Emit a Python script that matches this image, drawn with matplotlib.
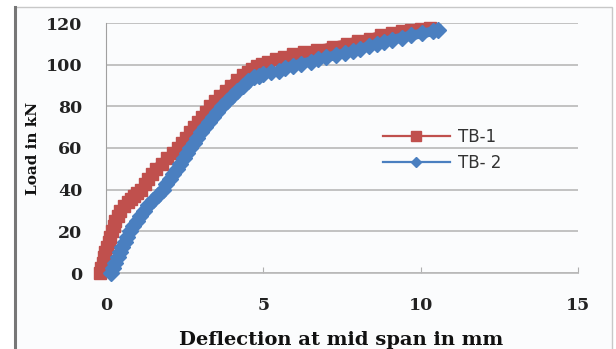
import matplotlib.pyplot as plt
from matplotlib.patches import Rectangle

# load-deflection readings (centre of each band)
tb1_x = [-0.19, -0.15, -0.1, -0.06, -0.03, 0.02, 0.08, 0.13, 0.19, 0.25, 0.3, 0.37, 0.44,
         0.56, 0.7, 0.8, 0.9, 1.0, 1.11, 1.23, 1.35, 1.47, 1.59, 1.77, 1.95, 2.12,
         2.29, 2.42, 2.55, 2.68, 2.8, 2.92, 3.05, 3.18, 3.3, 3.47, 3.63, 3.8, 3.97,
         4.15, 4.35, 4.5, 4.65, 4.8, 4.95, 5.15, 5.4, 5.65, 5.94, 6.3, 6.7, 7.2,
         7.65, 8.0, 8.4, 8.75, 9.1, 9.4, 9.7, 10.0, 10.3]
tb1_y = [0, 2.5, 5, 7.5, 10, 12.5, 15, 17.5, 20, 22.5, 25, 27.5, 30,
         32, 34, 35.5, 37, 38.5, 40, 42.5, 45, 47.5, 50, 52.5, 55, 57.5,
         60, 62.5, 65, 67.5, 70, 72.5, 75, 77.5, 80, 82.5, 85, 87.5, 90,
         92.5, 95, 96.5, 98, 99.3, 100.5, 101.5, 102.5, 103.8, 105, 106, 107, 108.5,
         110, 111.2, 112.5, 114, 115.4, 116, 116.5, 117.1, 117.6]

tb2_x = [0.15, 0.22, 0.3, 0.37, 0.44, 0.52, 0.6, 0.68, 0.76, 0.87, 0.98, 1.09, 1.2,
         1.35, 1.5, 1.65, 1.8, 1.91, 2.02, 2.14, 2.25, 2.36, 2.47, 2.58, 2.68, 2.79,
         2.9, 3.02, 3.15, 3.27, 3.4, 3.54, 3.68, 3.85, 4.0, 4.17, 4.35, 4.5, 4.7,
         4.85, 5.0, 5.25, 5.5, 5.7, 5.94, 6.2, 6.5, 6.75, 7.0, 7.3, 7.6, 7.85,
         8.06, 8.35, 8.6, 8.85, 9.1, 9.4, 9.7, 10.05, 10.4, 10.55]
tb2_y = [0, 2.5, 5, 7.5, 10, 12.5, 15, 17.5, 20, 22.5, 25, 27.5, 30,
         32.5, 35, 37.5, 40, 42.5, 45, 47.5, 50, 52.5, 55, 57.5, 60, 62.5,
         65, 67.5, 70, 72.5, 75, 77.5, 80, 82.5, 85, 87.5, 90, 92, 94,
         94.8, 95.5, 96.3, 97, 98.3, 99.5, 100.5, 101.5, 102.5, 103.5, 104.5, 105.5, 106.5,
         107.5, 108.8, 110, 111, 112, 113, 114, 115, 116, 116.5]

x_ticks = [0, 5, 10, 15]
y_ticks = [0, 20, 40, 60, 80, 100, 120]

W, H = 616, 349
fig = plt.figure(figsize=(W / 100, H / 100), dpi=100)
fig.patch.set_facecolor('white')

# outer chart frame
frame = Rectangle((15 / W, -0.1), (612 - 15) / W, 1.1 - 7 / H,
                  transform=fig.transFigure, fill=True,
                  facecolor='#fbfcfd', edgecolor='#c8c8c8', lw=1.0, zorder=-10)
fig.add_artist(frame)
fig.add_artist(plt.Line2D([15 / W, 15 / W], [0, 1 - 7 / H], transform=fig.transFigure,
                          color='#777777', lw=2.2, zorder=-9))

ax = fig.add_axes([106 / W, 1 - 273 / H, (578 - 106) / W, (273 - 23) / H])
ax.set_facecolor('#fbfcfd')
ax.set_zorder(1)

ax.plot(tb1_x, tb1_y, color='#c0504d', marker='s', markersize=8.5, lw=7,
        markeredgecolor='#c0504d', label='TB-1', zorder=3, clip_on=False)
ax.plot(tb2_x, tb2_y, color='#4a7fc0', marker='D', markersize=8, lw=7,
        markeredgecolor='#4a7fc0', label='TB- 2', zorder=4, clip_on=False)

ax.set_xlim(0, 15)
ax.set_ylim(0, 120)
ax.set_xticks(x_ticks)
ax.set_yticks(y_ticks)
ax.grid(axis='y', color='#b8b8b8', lw=1.2)
ax.set_axisbelow(True)
for s in ['top', 'right']:
    ax.spines[s].set_visible(False)
ax.spines['left'].set_color('#a0a0a0')
ax.spines['bottom'].set_color('#b8b8b8')
ax.spines['bottom'].set_linewidth(1.2)
ax.tick_params(axis='y', length=0, pad=17)
ax.tick_params(axis='x', direction='in', length=4, color='#b0b0b0', pad=17)
for lab in ax.get_xticklabels() + ax.get_yticklabels():
    lab.set_fontfamily('DejaVu Serif')
    lab.set_fontweight('bold')
    lab.set_fontsize(12.5)
    lab.set_color('#222222')

fig.text(33 / W, 1 - 148 / H, 'Load in kN', rotation=90, ha='center', va='center',
         family='DejaVu Serif', weight='bold', size=11, color='#111111')
fig.text(341 / W, 1 - 340 / H, 'Deflection at mid span in mm', ha='center', va='center',
         family='DejaVu Serif', weight='bold', size=14, color='#111111')

leg = ax.legend(loc='center left', bbox_to_anchor=(383 / W, 1 - 150 / H),
                bbox_transform=fig.transFigure, frameon=False,
                borderpad=0, borderaxespad=0, handlelength=4, handletextpad=0.5,
                labelspacing=0.45, prop={'family': 'DejaVu Sans', 'size': 12})
for h, ms in zip(leg.legend_handles, [7, 5]):
    h.set_linewidth(1.6)
    h.set_markersize(ms)
for t in leg.get_texts():
    t.set_color('#333333')

fig.savefig('out.png', dpi=100)
